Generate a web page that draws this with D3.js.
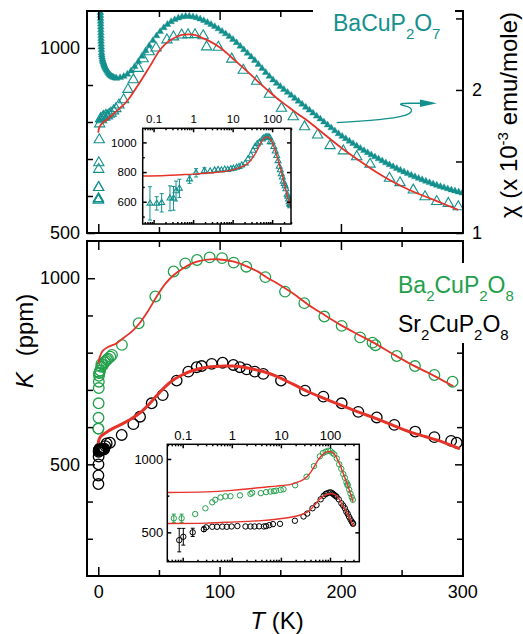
<!DOCTYPE html>
<html>
<head>
<meta charset="utf-8">
<script src="https://cdn.jsdelivr.net/npm/d3@7/dist/d3.min.js"></script>
<style>
  html, body { margin: 0; padding: 0; background: #fff; }
  svg { display: block; }
</style>
</head>
<body>
<svg id="chart" width="523" height="634"></svg>
<script>
// ---------------- data ----------------
const tempMajor = [0, 100, 200, 300];
const tempMinor = [50, 150, 250];
const logLabels = [0.1, 1, 10, 100];

// BaCuP2O7: 31P NMR shift K (ppm) versus T (K)
const baCuT = [0.081,0.12,0.16,0.26,0.32,0.37,0.45,0.81,1.19,1.93,2.7,3.5,4.3,5.2,6.3,7.5,9,10.5,12.6,14.5,17,20.9,24.5,28.9,33,37,42,47.6,56.6,62,68.7,74,79.7,86.5,89.3,98.9,110,119.5,130.5,141,151,160.7,170,180.8,191,202,213,224,240,248.7,259.6,269.3,278.9,288.5,296.7];
const baCuK = [589,589,593,623,623,672,690,752,795,809,806,812,815,813,818,816,821,824,830,836,846,860,888,914,945,971,990,1000,1022,1030,1035,1036,1036,1033,1003,1002,970,940,910,875,837,814,787,765,736,722,706,686,648,636,616,598,585,580,571];
const baCuErr = [112,45,62,84,80,67,62,28,28,20];
const baCuFitT = [0.05,0.2,0.5,1,2,3.5,5,7,10,14,18,22,26,30,35,40,45,50,55,60,65,70,75,80,85,92,100,106,113,120,127,133,140,147,155,163,173,187,200,214,228,242,256,270,283,296];
const baCuFitK = [773,777,782,786,792,797,802,806,815,826,838,850,866,886,911,937,964,991,1010,1022,1031,1036,1037,1035,1028,1018,1002,986,965,945,924,905,885,865,845,825,802,765,731,698,667,640,617,598,581,563];

// BaCuP2O7: susceptibility chi (1e-3 emu/mole) versus T (K)
const chiT = [1.8,1.85,1.9,1.95,2.0,2.05,2.1,2.15,2.2,2.25,2.3,2.4,2.5,2.6,2.75,2.9,3.1,3.4,3.7,4.0,4.4,4.8,5.2,5.7,6.2,6.8,7.4,8.1,8.8,9.6,10.5,11.5,12.5,13.7,
  15,18,21,24,27,30,33,36,39,42,45,48,51,54,57,60,63,66,69,72,75,78,81,84,87,90,93,96,99,102,105,108,111,114,117,120,123,126,129,132,135,138,141,144,147,150,153,156,159,162,165,168,171,174,177,180,183,186,189,192,195,198,201,204,207,210,213,216,219,222,225,228,231,234,237,240,243,246,249,252,255,258,261,264,267,270,273,276,279,282,285,288,291,294,297,300];
const chiVal = [2.54,2.52,2.50,2.48,2.46,2.44,2.42,2.40,2.38,2.36,2.34,2.32,2.30,2.28,2.26,2.245,2.23,2.215,2.205,2.195,2.185,2.175,2.166,2.157,2.148,2.139,2.130,2.121,2.113,2.105,2.098,2.092,2.088,2.084,
  2.082,2.086,2.095,2.110,2.133,2.163,2.198,2.236,2.274,2.310,2.345,2.378,2.408,2.435,2.458,2.477,2.492,2.503,2.511,2.515,2.515,2.511,2.505,2.496,2.485,2.472,2.458,2.443,2.427,2.410,2.392,2.373,2.353,2.330,2.306,2.281,2.256,2.231,2.206,2.178,2.150,2.122,2.095,2.070,2.046,2.024,2.003,1.983,1.962,1.941,1.921,1.900,1.879,1.859,1.838,1.817,1.797,1.776,1.755,1.735,1.714,1.694,1.676,1.659,1.642,1.625,1.608,1.592,1.576,1.561,1.546,1.532,1.518,1.504,1.490,1.477,1.464,1.451,1.439,1.427,1.415,1.404,1.393,1.382,1.372,1.362,1.352,1.343,1.334,1.325,1.317,1.309,1.301,1.294,1.287,1.280];

// Ba2CuP2O8: K (ppm) versus T (K)
const ba2T = [0.066,0.095,0.18,0.29,0.40,0.46,0.59,0.74,0.94,1.47,2.4,2.6,3.9,5.0,6.1,7.2,8.0,9.9,11.3,19.5,33.3,47,62.1,71.7,81.4,91.8,102,111.6,122,137.7,153.9,169.8,186.3,200.6,215.8,226,228.5,246,261,277,292];
const ba2K = [596,596,625,664,705,722,738,745,746,752,762,770,767,774,778,781,784,789,794,821,879,951,1018,1040,1049,1056,1054,1042,1031,1003,964,933,897,872,841,827,820,791,764,740,722];
const ba2Err = [28,28];
const ba2FitT = [0.05,0.3,1,2,4,8,15,21,28,34,41,48,55,62,69,76,83,90,97,104,111,118,125,132,139,147,160,173,187,200,214,228,242,256,270,283,292];
const ba2FitK = [772,776,786,795,806,815,825,840,858,879,912,950,984,1008,1025,1038,1046,1050,1051,1049,1045,1038,1028,1017,1002,987,960,929,900,874,849,825,798,772,749,727,711];

// Sr2CuP2O8: K (ppm) versus T (K)
const sr2T = [0.085,0.103,0.16,0.27,0.30,0.40,0.50,0.64,0.79,0.99,1.3,1.9,2.4,2.9,3.6,4.5,5.0,5.8,6.9,9.6,19.3,28.9,34.4,44,53.1,64.6,74.2,81.1,85.2,93.5,102.5,111.3,116.8,122.3,129,136,150.6,170.4,185.5,200.6,214.3,229.5,244,261.2,277,290.8,295.4];
const sr2K = [447,470,500,521,534,538,538,539,538,540,543,540,540,540,541,540,542,549,556,558,579,608,628,664,686,725,749,761,764,770,773,767,761,755,749,743,725,698,682,664,641,626,606,588,573,563,558];
const sr2Err = [80,57,28,15];
const sr2FitT = [0.05,0.3,1,2,4,8,18,26,35,42,48,55,62,69,76,83,90,97,104,111,117,124,131,139,147,160,173,187,200,214,228,242,256,270,283,297];
const sr2FitK = [560,563,570,575,580,589,606,620,640,662,684,708,727,740,750,757,761,763,764,764,762,758,753,746,736,716,695,676,659,641,624,606,588,574,561,543];

// ---------------- drawing ----------------
const FONT = "'Liberation Sans', Arial, Helvetica, sans-serif";
const TEAL = "#13908d", GREEN = "#22a04b", RED = "#e5332a";
const svg = d3.select("#chart");

const zip = (xs, ys, errs) => xs.map((t, i) => ({ t, v: ys[i], e: (errs && errs[i]) || 0 }));
const baCu = zip(baCuT, baCuK, baCuErr);
const baCuFit = zip(baCuFitT, baCuFitK);
const chi = zip(chiT, chiVal);
const ba2 = zip(ba2T, ba2K, ba2Err);
const ba2Fit = zip(ba2FitT, ba2FitK);
const sr2 = zip(sr2T, sr2K, sr2Err);
const sr2Fit = zip(sr2FitT, sr2FitK);

// scales
const xMain = d3.scaleLinear().domain([-9.3, 300.6]).range([87, 463]);
const yTop = d3.scaleLinear().domain([500, 1100]).range([233, 11]);
const yChi = d3.scaleLinear().domain([1, 2.552]).range([233, 11]);
const yBot = d3.scaleLinear().domain([200, 1100]).range([576, 241]);
const xIn1 = d3.scaleLog().domain([0.053, 300]).range([142.7, 291]);
const yIn1 = d3.scaleLinear().domain([450, 1095]).range([224, 128.3]);
const xIn2 = d3.scaleLog().domain([0.0486, 395]).range([167.3, 359.3]);
const yIn2 = d3.scaleLinear().domain([300, 1100]).range([561.7, 444.3]);

function addAxis(parent, gen, tx, ty, size) {
  const g = parent.append("g").attr("transform", `translate(${tx},${ty})`).call(gen);
  g.select(".domain").remove();
  g.selectAll(".tick line").attr("stroke", "#000").attr("stroke-width", 1.5);
  g.selectAll(".tick text").attr("fill", "#000").attr("font-size", size).attr("font-family", FONT);
  return g;
}
const noLabel = () => "";

function logTickValues(scale) {
  const [a, b] = scale.domain();
  const major = [], minor = [];
  for (let e = -2; e <= 3; e++) {
    for (let m = 1; m <= 9; m++) {
      const v = +(m * Math.pow(10, e)).toPrecision(6);
      if (v >= a && v <= b) (m === 1 ? major : minor).push(v);
    }
  }
  return { major, minor };
}

function clipGroup(id, x, y, w, h) {
  svg.append("clipPath").attr("id", id).append("rect")
    .attr("x", x).attr("y", y).attr("width", w).attr("height", h);
  return svg.append("g").attr("clip-path", `url(#${id})`);
}

function fitLine(g, data, xs, ys, width) {
  g.append("path").datum(data)
    .attr("fill", "none").attr("stroke", RED).attr("stroke-width", width)
    .attr("stroke-linejoin", "round").attr("stroke-linecap", "round")
    .attr("d", d3.line().x(d => xs(d.t)).y(d => ys(d.v)).curve(d3.curveCatmullRom.alpha(0.5)));
}

function triangles(g, data, xs, ys, size, color, filled) {
  g.append("g").selectAll("path").data(data).join("path")
    .attr("transform", d => `translate(${xs(d.t)},${ys(d.v)})`)
    .attr("d", d3.symbol().type(d3.symbolTriangle).size(size))
    .attr("fill", filled ? color : "none")
    .attr("stroke", color).attr("stroke-width", filled ? 0.4 : 1.1);
}

function circles(g, data, xs, ys, r, color, sw) {
  g.append("g").selectAll("circle").data(data).join("circle")
    .attr("cx", d => xs(d.t)).attr("cy", d => ys(d.v)).attr("r", r)
    .attr("fill", "none").attr("stroke", color).attr("stroke-width", sw);
}

function errorBars(g, data, xs, ys, color) {
  const eb = g.append("g").attr("stroke", color).attr("stroke-width", 1);
  data.filter(d => d.e > 0).forEach(d => {
    const x = xs(d.t), y0 = ys(d.v - d.e), y1 = ys(d.v + d.e);
    eb.append("line").attr("x1", x).attr("x2", x).attr("y1", y0).attr("y2", y1);
    eb.append("line").attr("x1", x - 2).attr("x2", x + 2).attr("y1", y0).attr("y2", y0);
    eb.append("line").attr("x1", x - 2).attr("x2", x + 2).attr("y1", y1).attr("y2", y1);
  });
}

function frame(x0, y0, x1, y1, w) {
  svg.append("rect").attr("x", x0).attr("y", y0).attr("width", x1 - x0).attr("height", y1 - y0)
    .attr("fill", "none").attr("stroke", "#000").attr("stroke-width", w);
}

// ===== upper panel: BaCuP2O7 =====
const [tx0, tx1] = xMain.range();
const upper = clipGroup("clipUpper", tx0, 11, tx1 - tx0, 222);
triangles(upper, chi, xMain, yChi, 20, TEAL, true);
triangles(upper, baCu, xMain, yTop, 46, TEAL, false);
fitLine(upper, baCuFit, xMain, yTop, 1.8);

frame(tx0, 11, tx1, 233, 2);
addAxis(svg, d3.axisLeft(yTop).tickValues([500, 1000]).tickSize(-8).tickPadding(7).tickFormat(d3.format("d")), tx0, 0, 18);
addAxis(svg, d3.axisLeft(yTop).tickValues([600, 700, 800, 900]).tickSize(-6).tickFormat(noLabel), tx0, 0, 18);
addAxis(svg, d3.axisRight(yChi).tickValues([1, 2]).tickSize(-7).tickPadding(9).tickFormat(d3.format("d")), tx1, 0, 18);
addAxis(svg, d3.axisRight(yChi).tickValues([1.5, 2.5]).tickSize(-7).tickFormat(noLabel), tx1, 0, 18);
addAxis(svg, d3.axisBottom(xMain).tickValues(tempMajor).tickSize(-9).tickFormat(noLabel), 0, 233, 18);
addAxis(svg, d3.axisBottom(xMain).tickValues(tempMinor).tickSize(-6).tickFormat(noLabel), 0, 233, 18);
addAxis(svg, d3.axisTop(xMain).tickValues(tempMajor).tickSize(-9).tickFormat(noLabel), 0, 11, 18);
addAxis(svg, d3.axisTop(xMain).tickValues(tempMinor).tickSize(-6).tickFormat(noLabel), 0, 11, 18);

// inset: K versus log T
{
  const [ix0, ix1] = xIn1.range(), [iy1, iy0] = yIn1.range();
  svg.append("rect").attr("x", ix0).attr("y", iy0).attr("width", ix1 - ix0).attr("height", iy1 - iy0).attr("fill", "#fff");
  const g = clipGroup("clipIn1", ix0, iy0, ix1 - ix0, iy1 - iy0);
  errorBars(g, baCu, xIn1, yIn1, TEAL);
  triangles(g, baCu, xIn1, yIn1, 15, TEAL, false);
  fitLine(g, baCuFit, xIn1, yIn1, 1.4);
  frame(ix0, iy0, ix1, iy1, 1.5);
  const lt = logTickValues(xIn1);
  addAxis(svg, d3.axisTop(xIn1).tickValues(logLabels).tickSize(-4).tickPadding(5).tickFormat(d3.format("~g")), 0, iy0, 11.5);
  addAxis(svg, d3.axisTop(xIn1).tickValues(lt.minor).tickSize(-2).tickFormat(noLabel), 0, iy0, 11.5);
  addAxis(svg, d3.axisBottom(xIn1).tickValues(lt.major).tickSize(-4).tickFormat(noLabel), 0, iy1, 11.5);
  addAxis(svg, d3.axisBottom(xIn1).tickValues(lt.minor).tickSize(-2).tickFormat(noLabel), 0, iy1, 11.5);
  addAxis(svg, d3.axisLeft(yIn1).tickValues([600, 800, 1000]).tickSize(-4).tickPadding(6).tickFormat(d3.format("d")), ix0, 0, 11.5);
  addAxis(svg, d3.axisLeft(yIn1).tickValues([500, 700, 900]).tickSize(-2).tickFormat(noLabel), ix0, 0, 11.5);
  addAxis(svg, d3.axisRight(yIn1).tickValues([600, 800, 1000]).tickSize(-4).tickFormat(noLabel), ix1, 0, 11.5);
}

// compound label on a white patch over the frame
svg.append("rect").attr("x", 313).attr("y", 2).attr("width", 142).attr("height", 44).attr("fill", "#fff");
{
  const t = svg.append("text").attr("x", 333).attr("y", 31).attr("font-family", FONT).attr("font-size", 23).attr("fill", TEAL);
  t.append("tspan").text("BaCuP");
  t.append("tspan").attr("font-size", 15).attr("dy", 8).text("2");
  t.append("tspan").attr("dy", -8).text("O");
  t.append("tspan").attr("font-size", 15).attr("dy", 8).text("7");
}

// arrow pointing to the right-hand (chi) axis, in data units
{
  const P = (t, c) => [xMain(t), yChi(c)];
  const p = d3.path();
  p.moveTo(...P(196.5, 1.771));
  p.bezierCurveTo(...P(223.9, 1.783), ...P(242.1, 1.797), ...P(251.1, 1.818));
  p.bezierCurveTo(...P(260.2, 1.839), ...P(260.2, 1.874), ...P(252.8, 1.888));
  p.bezierCurveTo(...P(247.0, 1.899), ...P(247.8, 1.907), ...P(256.9, 1.907));
  p.lineTo(...P(266.8, 1.907));
  svg.append("path").attr("d", p.toString()).attr("fill", "none").attr("stroke", TEAL).attr("stroke-width", 1.3);
  const h = d3.path();
  h.moveTo(...P(265.1, 1.933)); h.lineTo(...P(279.1, 1.907)); h.lineTo(...P(265.1, 1.881)); h.closePath();
  svg.append("path").attr("d", h.toString()).attr("fill", TEAL);
}

// right axis title
{
  const t = svg.append("text").attr("transform", "translate(517,115) rotate(-90)")
    .attr("text-anchor", "middle").attr("font-family", FONT).attr("font-size", 24).attr("fill", "#000");
  t.append("tspan").text("\u03c7 (x 10");
  t.append("tspan").attr("font-size", 15).attr("dy", -9).text("-3");
  t.append("tspan").attr("dy", 9).text(" emu/mole)");
}

// ===== lower panel: Ba2CuP2O8 and Sr2CuP2O8 =====
const lower = clipGroup("clipLower", tx0, 241, tx1 - tx0, 335);
circles(lower, ba2, xMain, yBot, 5.3, GREEN, 1.3);
circles(lower, sr2, xMain, yBot, 5.3, "#000", 1.3);
fitLine(lower, ba2Fit, xMain, yBot, 1.8);
fitLine(lower, sr2Fit, xMain, yBot, 3);

frame(tx0, 241, tx1, 576, 2);
addAxis(svg, d3.axisLeft(yBot).tickValues([500, 1000]).tickSize(-8).tickPadding(7).tickFormat(d3.format("d")), tx0, 0, 18);
addAxis(svg, d3.axisLeft(yBot).tickValues([300, 400, 600, 700, 800, 900]).tickSize(-6).tickFormat(noLabel), tx0, 0, 18);
addAxis(svg, d3.axisRight(yBot).tickValues([500, 1000]).tickSize(-8).tickFormat(noLabel), tx1, 0, 18);
addAxis(svg, d3.axisRight(yBot).tickValues([300, 400, 600, 700, 800, 900]).tickSize(-6).tickFormat(noLabel), tx1, 0, 18);
addAxis(svg, d3.axisBottom(xMain).tickValues(tempMajor).tickSize(-9).tickPadding(9).tickFormat(d3.format("d")), 0, 576, 18);
addAxis(svg, d3.axisBottom(xMain).tickValues(tempMinor).tickSize(-6).tickFormat(noLabel), 0, 576, 18);
addAxis(svg, d3.axisTop(xMain).tickValues(tempMajor).tickSize(-9).tickFormat(noLabel), 0, 241, 18);
addAxis(svg, d3.axisTop(xMain).tickValues(tempMinor).tickSize(-6).tickFormat(noLabel), 0, 241, 18);

// inset: K versus log T for both compounds
{
  const [ix0, ix1] = xIn2.range(), [iy1, iy0] = yIn2.range();
  svg.append("rect").attr("x", ix0).attr("y", iy0).attr("width", ix1 - ix0).attr("height", iy1 - iy0).attr("fill", "#fff");
  const g = clipGroup("clipIn2", ix0, iy0, ix1 - ix0, iy1 - iy0);
  errorBars(g, ba2, xIn2, yIn2, GREEN);
  errorBars(g, sr2, xIn2, yIn2, "#000");
  circles(g, ba2, xIn2, yIn2, 2.7, GREEN, 1);
  circles(g, sr2, xIn2, yIn2, 2.7, "#000", 1);
  fitLine(g, ba2Fit, xIn2, yIn2, 1.4);
  fitLine(g, sr2Fit, xIn2, yIn2, 1.4);
  frame(ix0, iy0, ix1, iy1, 1.5);
  const lt = logTickValues(xIn2);
  addAxis(svg, d3.axisTop(xIn2).tickValues(logLabels).tickSize(-4).tickPadding(4).tickFormat(d3.format("~g")), 0, iy0, 13);
  addAxis(svg, d3.axisTop(xIn2).tickValues(lt.minor).tickSize(-2).tickFormat(noLabel), 0, iy0, 13);
  addAxis(svg, d3.axisBottom(xIn2).tickValues(lt.major).tickSize(-4).tickFormat(noLabel), 0, iy1, 13);
  addAxis(svg, d3.axisBottom(xIn2).tickValues(lt.minor).tickSize(-2).tickFormat(noLabel), 0, iy1, 13);
  addAxis(svg, d3.axisLeft(yIn2).tickValues([500, 1000]).tickSize(-4).tickPadding(4).tickFormat(d3.format("d")), ix0, 0, 13);
  addAxis(svg, d3.axisLeft(yIn2).tickValues([750]).tickSize(-2).tickFormat(noLabel), ix0, 0, 13);
  addAxis(svg, d3.axisRight(yIn2).tickValues([500, 1000]).tickSize(-4).tickFormat(noLabel), ix1, 0, 13);
}

// compound labels on a white patch over the right frame
svg.append("rect").attr("x", 395).attr("y", 263).attr("width", 128).attr("height", 80).attr("fill", "#fff");
function formula(x, y, color, parts) {
  const t = svg.append("text").attr("x", x).attr("y", y).attr("font-family", FONT).attr("font-size", 23).attr("fill", color);
  let low = false;
  parts.forEach(([s, sub]) => {
    const dy = sub ? (low ? 0 : 8) : (low ? -8 : 0);
    t.append("tspan").attr("font-size", sub ? 15 : 23).attr("dy", dy).text(s);
    low = !!sub;
  });
}
formula(398, 293, GREEN, [["Ba"], ["2", 1], ["CuP"], ["2", 1], ["O"], ["8", 1]]);
formula(398, 331.5, "#000", [["Sr"], ["2", 1], ["CuP"], ["2", 1], ["O"], ["8", 1]]);

// axis titles
{
  const t = svg.append("text").attr("transform", "translate(33,341) rotate(-90)")
    .attr("text-anchor", "middle").attr("font-family", FONT).attr("font-size", 24).attr("fill", "#000");
  t.append("tspan").attr("font-style", "italic").text("K");
  t.append("tspan").attr("dx", 16).text("(ppm)");
}
{
  const t = svg.append("text").attr("x", 277).attr("y", 629)
    .attr("text-anchor", "middle").attr("font-family", FONT).attr("font-size", 24).attr("fill", "#000");
  t.append("tspan").attr("font-style", "italic").text("T");
  t.append("tspan").text(" (K)");
}
</script>
</body>
</html>
